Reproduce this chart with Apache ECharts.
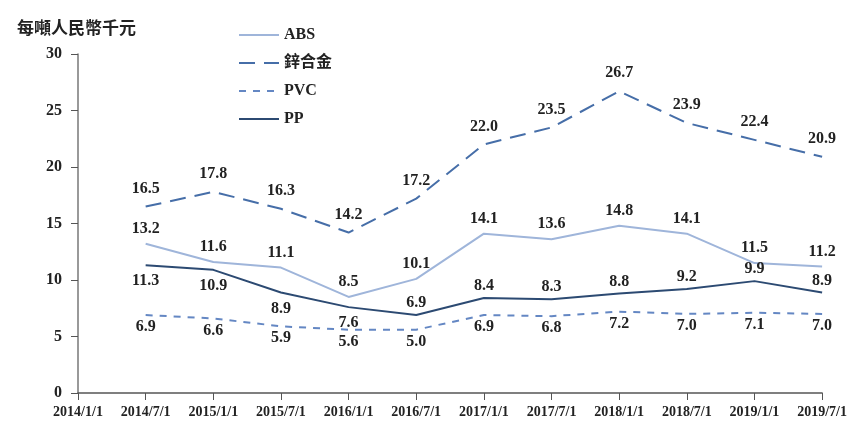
<!DOCTYPE html>
<html><head><meta charset="utf-8">
<script src="https://cdn.jsdelivr.net/npm/echarts@6/dist/echarts.min.js"></script>
<style>html,body{margin:0;padding:0;background:#fff}#c{width:850px;height:424px}</style>
</head><body><div id="c"></div>
<script>
const categories = ['2014/1/1','2014/7/1','2015/1/1','2015/7/1','2016/1/1','2016/7/1','2017/1/1','2017/7/1','2018/1/1','2018/7/1','2019/1/1','2019/7/1'];
const yTicks = [0, 5, 10, 15, 20, 25, 30];
const absVals  = [13.2, 11.6, 11.1, 8.5, 10.1, 14.1, 13.6, 14.8, 14.1, 11.5, 11.2];
const zincVals = [16.5, 17.8, 16.3, 14.2, 17.2, 22.0, 23.5, 26.7, 23.9, 22.4, 20.9];
const pvcVals  = [6.9, 6.6, 5.9, 5.6, 5.6, 6.9, 6.8, 7.2, 7.0, 7.1, 7.0];
const pvcLabels = ['6.9','6.6','5.9','5.6','5.0','6.9','6.8','7.2','7.0','7.1','7.0'];
const ppVals   = [11.3, 10.9, 8.9, 7.6, 6.9, 8.4, 8.3, 8.8, 9.2, 9.9, 8.9];
const ppLabelPos = ['bottom','bottom','bottom','bottom','top','top','top','top','top','top','top'];
const yAxisTitle = '每噸人民幣千元';
const names = ['ABS', '鋅合金', 'PVC', 'PP'];

const FONT = "'Liberation Serif', 'Noto Sans CJK TC', serif";
const lbl = (pos, dist) => ({show: true, position: pos, distance: dist, color: '#222', fontFamily: FONT, fontWeight: 'bold', fontSize: 16,
  formatter: p => p.value.toFixed(1)});
const pad = arr => [null].concat(arr);
const common = {type: 'line', symbol: 'circle', symbolSize: 0, showSymbol: true, showAllSymbol: true};

const chart = echarts.init(document.getElementById('c'));
chart.setOption({
  animation: false,
  title: {text: yAxisTitle, left: 12, top: 14, textStyle: {fontFamily: "'Noto Sans CJK TC', serif", fontWeight: 'bold', fontSize: 17, color: '#222'}},
  legend: {
    orient: 'vertical', left: 233, top: 22, itemWidth: 40, itemHeight: 14, itemGap: 12,
    data: names,
    itemStyle: {color: 'rgba(0,0,0,0)', borderWidth: 0},
    textStyle: {fontFamily: FONT, fontWeight: 'bold', fontSize: 16, color: '#222', padding: [0, 0, 0, 0]}
  },
  grid: {left: 78, right: 26, top: 54, bottom: 31, containLabel: false},
  xAxis: {
    type: 'category', data: categories, boundaryGap: false,
    axisLine: {lineStyle: {color: '#555', width: 1.5}},
    axisTick: {length: 7, lineStyle: {color: '#555'}},
    axisLabel: {interval: 0, margin: 12, color: '#222', fontFamily: FONT, fontWeight: 'bold', fontSize: 14}
  },
  yAxis: {
    type: 'value', min: yTicks[0], max: yTicks[yTicks.length - 1], interval: 5,
    axisLine: {show: true, lineStyle: {color: '#777', width: 1.5}},
    axisTick: {show: true, length: 7, lineStyle: {color: '#555'}},
    splitLine: {show: false},
    axisLabel: {margin: 16, color: '#222', fontFamily: FONT, fontWeight: 'bold', fontSize: 16}
  },
  series: [
    Object.assign({name: names[0], data: pad(absVals),
     lineStyle: {color: '#9fb5da', width: 2}, itemStyle: {color: '#9fb5da'}, label: lbl('top', 7)}, common),
    Object.assign({name: names[1], data: pad(zincVals),
     lineStyle: {color: '#466ea8', width: 2, type: [16, 9]}, itemStyle: {color: '#466ea8'}, label: lbl('top', 10)}, common),
    Object.assign({name: names[2],
     data: pad(pvcVals.map((v, i) => ({value: v, label: {formatter: pvcLabels[i]}}))),
     lineStyle: {color: '#6487c3', width: 2, type: [7, 7]}, itemStyle: {color: '#6487c3'}, label: lbl('bottom', 4)}, common),
    Object.assign({name: names[3],
     data: pad(ppVals.map((v, i) => ({value: v, label: {position: ppLabelPos[i], distance: ppLabelPos[i] === 'top' ? 4 : 8}}))),
     lineStyle: {color: '#2c4a72', width: 2}, itemStyle: {color: '#2c4a72'}, label: lbl('bottom', 8)}, common)
  ]
});
</script></body></html>
